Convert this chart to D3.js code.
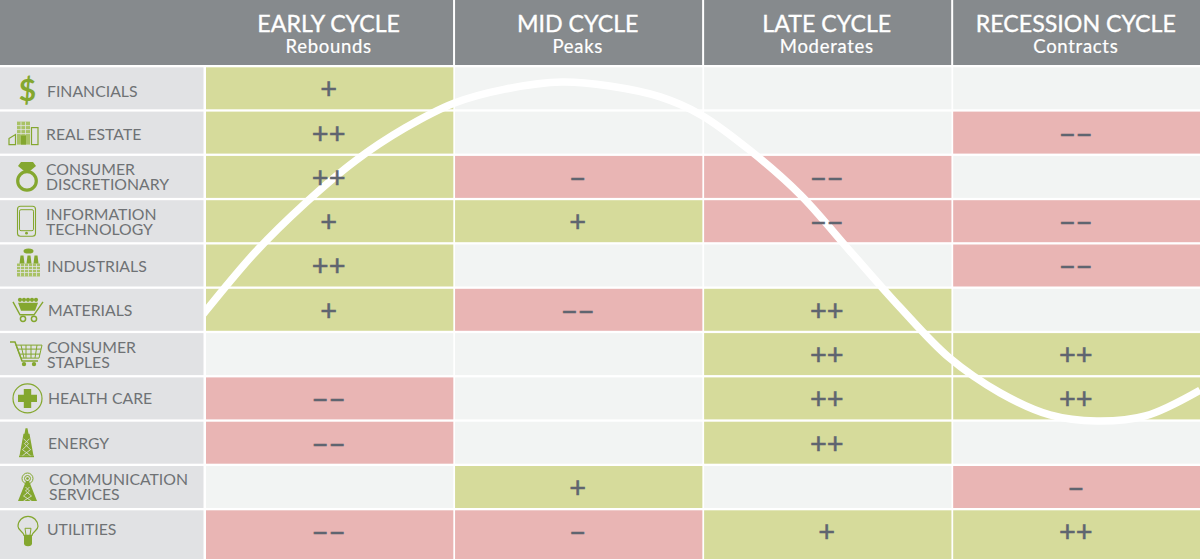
<!DOCTYPE html>
<html>
<head>
<meta charset="utf-8">
<script src="https://cdn.jsdelivr.net/npm/d3@7"></script>
<style>
  html, body { margin: 0; padding: 0; background: #fff; }
  svg { display: block; }
  text { font-family: Lato, "Open Sans", sans-serif; }
</style>
</head>
<body>
<svg id="chart"></svg>
<script>
"use strict";

// table contents
const phases = ["EARLY CYCLE", "MID CYCLE", "LATE CYCLE", "RECESSION CYCLE"];
const phaseNotes = ["Rebounds", "Peaks", "Moderates", "Contracts"];
const sectors = [
  ["FINANCIALS"],
  ["REAL ESTATE"],
  ["CONSUMER", "DISCRETIONARY"],
  ["INFORMATION", "TECHNOLOGY"],
  ["INDUSTRIALS"],
  ["MATERIALS"],
  ["CONSUMER", "STAPLES"],
  ["HEALTH CARE"],
  ["ENERGY"],
  ["COMMUNICATION", "SERVICES"],
  ["UTILITIES"],
];

// -2 = "−−", -1 = "−", 0 = blank, 1 = "+", 2 = "++"
const earlyValues = [1, 2, 2, 1, 2, 1, 0, -2, -2, 0, -2];
const midValues = [0, 0, -1, 1, 0, -2, 0, 0, 0, 1, -1];
const lateValues = [0, 0, -2, -2, 0, 2, 2, 2, 2, 0, 1];
const recessionValues = [0, -2, 0, -2, -2, 0, 2, 2, 0, -1, 2];
const values = [earlyValues, midValues, lateValues, recessionValues];

// business cycle curve, both axes in percent of the table
const cycleX = [-1.5, -0.1, 4.9, 10, 15, 20, 25, 30.1, 35.8, 40.6, 45.7, 49.8, 54.7, 59.8, 64.8, 69.8, 74.8, 79.9, 84.9, 89.6, 94.5, 100];
const cycleY = [27.1, 32.2, 49.6, 64.3, 76.7, 86.4, 93.8, 97.9, 100, 98.8, 95.6, 90.3, 79.9, 66.7, 50.1, 33.6, 18.6, 8.3, 1.8, 0, 1.5, 9.1];

const width = 1200;
const height = 559;
const headerH = 65;

const colors = { "-2": "#e9b5b4", "-1": "#e9b5b4", 0: "#f2f4f3", 1: "#d6db9b", 2: "#d6db9b" };
const symbols = { "-2": "−−", "-1": "−", 0: "", 1: "+", 2: "++" };
const iconGreen = "#84a72f";
const iconPale = "#a9c266";
const labelBg = "#e1e2e4";

const svg = d3.select("#chart").attr("width", width).attr("height", height);
svg.append("rect").attr("width", width).attr("height", height).attr("fill", "#fff");

const x = d3.scaleBand().domain(d3.range(phases.length)).range([206, 1200.5]).paddingInner(0.007);
const y = d3.scaleBand().domain(d3.range(sectors.length)).range([67.3, 552.3]).paddingInner(0.052);
const rowH = (i) => (i === sectors.length - 1 ? height - y(i) : y.bandwidth());

// header
svg.append("rect").attr("width", width).attr("height", headerH).attr("fill", "#868a8d");
svg.selectAll("line.sep")
  .data(d3.range(1, phases.length))
  .join("line")
  .attr("class", "sep")
  .attr("x1", (d) => x(d) - 1)
  .attr("x2", (d) => x(d) - 1)
  .attr("y1", 0)
  .attr("y2", headerH)
  .attr("stroke", "#fff")
  .attr("stroke-width", 2);

svg.selectAll("text.phase")
  .data(phases)
  .join("text")
  .attr("class", "phase")
  .attr("x", (d, i) => x(i) + x.bandwidth() / 2 - 1)
  .attr("y", 32)
  .attr("text-anchor", "middle")
  .attr("fill", "#fff")
  .attr("stroke", "#fff")
  .attr("stroke-width", 0.35)
  .attr("font-size", 23.2)
  .text((d) => d);

svg.selectAll("text.note")
  .data(phaseNotes)
  .join("text")
  .attr("class", "note")
  .attr("x", (d, i) => x(i) + x.bandwidth() / 2 - 1)
  .attr("y", 53)
  .attr("text-anchor", "middle")
  .attr("fill", "#fff")
  .attr("stroke", "#fff")
  .attr("stroke-width", 0.2)
  .attr("font-size", 18.5)
  .attr("letter-spacing", 0.7)
  .text((d) => d);

// left column
svg.selectAll("rect.sector")
  .data(sectors)
  .join("rect")
  .attr("class", "sector")
  .attr("x", 0)
  .attr("y", (d, i) => y(i))
  .attr("width", 203.5)
  .attr("height", (d, i) => rowH(i))
  .attr("fill", labelBg);

const labelDx = [47, 46, 46, 46, 47, 48, 47, 48, 48, 49, 47];
const labelDy = [3, 1, 0, 0, 1, 0, 0, 0, 0, -1, -2];

const labels = svg.selectAll("text.label")
  .data(sectors)
  .join("text")
  .attr("class", "label")
  .attr("fill", "#6f7275")
  .attr("font-size", 15.8);

labels.selectAll("tspan")
  .data((d, i) => d.map((t, k) => ({ t, k, n: d.length, i })))
  .join("tspan")
  .attr("x", (d) => labelDx[d.i])
  .attr("y", (d) => y(d.i) + y.bandwidth() / 2 + labelDy[d.i] + 6 + (d.k - (d.n - 1) / 2) * 15)
  .text((d) => d.t);

// cells
const cells = values.flatMap((col, c) => col.map((v, r) => ({ c, r, v })));

svg.selectAll("rect.cell")
  .data(cells)
  .join("rect")
  .attr("class", "cell")
  .attr("x", (d) => x(d.c))
  .attr("y", (d) => y(d.r))
  .attr("width", x.bandwidth())
  .attr("height", (d) => rowH(d.r))
  .attr("fill", (d) => colors[d.v]);

// curve goes over the cells, under the signs
const curveX = d3.scaleLinear().domain([0, 100]).range([206, 1200]);
const curveY = d3.scaleLinear().domain([0, 100]).range([421, 82]);
const curve = d3.line()
  .x((d) => curveX(d[0]))
  .y((d) => curveY(d[1]))
  .curve(d3.curveCatmullRom);

svg.append("clipPath").attr("id", "table-clip")
  .append("rect").attr("x", x(0)).attr("y", 0).attr("width", width).attr("height", height);

svg.append("path")
  .datum(d3.zip(cycleX, cycleY))
  .attr("d", curve)
  .attr("clip-path", "url(#table-clip)")
  .attr("fill", "none")
  .attr("stroke", "#fff")
  .attr("stroke-width", 7.5);

svg.selectAll("text.sign")
  .data(cells.filter((d) => d.v !== 0))
  .join("text")
  .attr("class", "sign")
  .attr("x", (d) => x(d.c) + x.bandwidth() / 2 - 1)
  .attr("y", (d) => y(d.r) + y.bandwidth() / 2 + (d.v > 0 ? 11 : 12))
  .attr("text-anchor", "middle")
  .attr("fill", "#5f6570")
  .attr("stroke", "#5f6570")
  .attr("stroke-width", 0.5)
  .attr("font-size", 29)
  .text((d) => symbols[d.v]);

// icons, drawn in a local box around the row centre
const iconG = svg.append("g");
const icon = (r, cx) => iconG.append("g")
  .attr("transform", `translate(${cx},${y(r) + y.bandwidth() / 2})`)
  .attr("fill", iconGreen)
  .attr("stroke", iconGreen)
  .attr("stroke-width", 0);
const outline = (g, w = 1) => g.attr("fill", "none").attr("stroke", iconGreen).attr("stroke-width", w);
const hatch = (g, d) => g.append("path").attr("d", d).attr("fill", "none").attr("stroke", labelBg).attr("stroke-width", 0.8);

// dollar
icon(0, 27.5).append("text")
  .attr("text-anchor", "middle").attr("y", 12.5).attr("font-size", 30).attr("font-weight", 700)
  .attr("fill", iconGreen).text("$");

// buildings
{
  const g = icon(1, 24);
  g.append("rect").attr("x", -7).attr("y", -11).attr("width", 13).attr("height", 23).attr("fill", iconPale);
  hatch(g, "M-7 -7H6M-7 -3H6M-7 1H6M-3 -11V2M1.5 -11V2");
  g.append("rect").attr("x", -3).attr("y", 3).attr("width", 5).attr("height", 9).attr("fill", iconGreen);
  outline(g.append("rect").attr("x", 7.5).attr("y", -5).attr("width", 6.5).attr("height", 17), 1.2);
  outline(g.append("path").attr("d", "M-15 6L-8.5 2V12H-15Z"), 1.2);
}

// ring
{
  const g = icon(2, 27);
  outline(g.append("circle").attr("cy", 4).attr("r", 9.3), 3.2);
  g.append("path").attr("d", "M-6 -15H6L9 -11L3 -6H-3L-9 -11Z");
}

// phone
{
  const g = icon(3, 26.5);
  outline(g.append("rect").attr("x", -9).attr("y", -15).attr("width", 18).attr("height", 30).attr("rx", 3), 1.1);
  outline(g.append("rect").attr("x", -7).attr("y", -11.5).attr("width", 14).attr("height", 21).attr("rx", 1.5), 1);
  g.append("circle").attr("cy", 12).attr("r", 1.4);
}

// factory
{
  const g = icon(4, 28.5);
  g.append("rect").attr("x", -11.5).attr("y", -2).attr("width", 23).attr("height", 13).attr("fill", iconPale);
  hatch(g, "M-11.5 1H11.5M-11.5 4H11.5M-11.5 7H11.5M-8 -2V11M-4 -2V11M0 -2V11M4 -2V11M8 -2V11");
  g.append("path").attr("d", "M-9 -2L-8 -10H-5L-4 -2ZM-2 -2L-1 -10H2L3 -2ZM5 -2L6 -10H9L10 -2Z");
  g.append("ellipse").attr("cy", -14.5).attr("rx", 5).attr("ry", 2.6);
}

// mining cart
{
  const g = icon(5, 28);
  g.append("path").attr("d", "M-10 -7H10L7 1H-7Z");
  outline(g.append("path").attr("d", "M-15 -8L-8 5H6L15 -8"), 1.4);
  g.selectAll("circle.ore").data(d3.range(5)).join("circle").attr("class", "ore")
    .attr("cx", (d) => -8 + d * 4).attr("cy", -10).attr("r", 2.1);
  outline(g.append("circle").attr("cx", -5).attr("cy", 9).attr("r", 2.6), 1.5);
  outline(g.append("circle").attr("cx", 6).attr("cy", 9).attr("r", 2.6), 1.5);
}

// shopping cart
{
  const g = icon(6, 27);
  outline(g.append("path").attr("d", "M-17 -12H-12L-5 7H11"), 1.5);
  outline(g.append("path").attr("d", "M-11 -9H15L12 4H-6ZM-6 -9L-3 4M-1 -9V4M4 -9V4M10 -9L8 4M-10 -5H14M-8 0H13"), 1);
  g.append("circle").attr("cx", -3).attr("cy", 10).attr("r", 2.2);
  g.append("circle").attr("cx", 7).attr("cy", 10).attr("r", 2.2);
}

// health cross
{
  const g = icon(7, 27.5);
  outline(g.append("circle").attr("r", 14.5), 1.2);
  g.append("path").attr("d", "M-3.7 -9.5H3.7V-3.7H9.5V3.7H3.7V9.5H-3.7V3.7H-9.5V-3.7H-3.7Z");
}

// derrick
{
  const g = icon(8, 26.5);
  g.append("path").attr("d", "M-1 -14.5H1L2 -9H3L7 13H-7L-3 -9H-2Z");
  g.append("path").attr("d", "M-7.5 13H7.5V14.5H-7.5Z");
  hatch(g, "M-3 -4L2 1L-4 7L4 13M3 -4L-2 1L4 7L-4 13");
}

// radio tower
{
  const g = icon(9, 27.5);
  outline(g.append("circle").attr("cy", -8.5).attr("r", 5.5), 1);
  outline(g.append("circle").attr("cy", -8.5).attr("r", 3), 1);
  g.append("circle").attr("cy", -8.5).attr("r", 1.3);
  g.append("path").attr("d", "M-1.5 -6H1.5L9.5 14H-9.5Z");
  hatch(g, "M-2 0L2 4L-4 9L4 14M2 0L-2 4L4 9L-4 14");
}

// light bulb
{
  const g = icon(10, 28);
  outline(g.append("path").attr("d", "M-4 4C-5 0 -10 -1 -10 -5A10 10 0 0 1 10 -5C10 -1 5 0 4 4Z"), 1.2);
  outline(g.append("path").attr("d", "M-3 -3L-2 4M3 -3L2 4M-3 -3H3"), 1);
  g.append("path").attr("d", "M-4 4H4V12A4 3 0 0 1 -4 12Z");
}
</script>
</body>
</html>
